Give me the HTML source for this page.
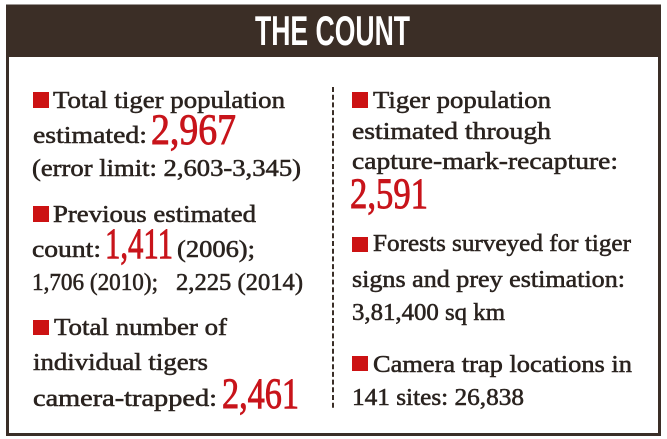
<!DOCTYPE html>
<html>
<head>
<meta charset="utf-8">
<style>
  html, body { margin:0; padding:0; background:#ffffff; }
  body { width:667px; height:439px; overflow:hidden; }
  svg { display:block; }
  .t { font-family:"Liberation Serif", "DejaVu Serif", serif; font-size:24px; fill:#2a231f; stroke:#2a231f; stroke-width:0.55px; }
  .n { font-family:"Liberation Serif", "DejaVu Serif", serif; font-size:43px; fill:#c8141b; stroke:#c8141b; stroke-width:0.9px; }
  .h { font-family:"Liberation Sans Narrow", "Liberation Sans", "DejaVu Sans", sans-serif; font-weight:bold; font-size:42px; fill:#ffffff; }
</style>
</head>
<body>
<svg width="667" height="439" viewBox="0 0 667 439" xmlns="http://www.w3.org/2000/svg">
  <!-- outer box -->
  <rect x="7.5" y="6" width="652" height="428.5" fill="#ffffff" stroke="#3a2e27" stroke-width="3"/>
  <!-- header -->
  <rect x="6" y="5" width="655" height="52" fill="#3b2e26"/>
  <text class="h" x="255" y="45" textLength="155" lengthAdjust="spacingAndGlyphs">THE COUNT</text>

  <!-- dashed divider -->
  <line x1="333" y1="87" x2="333" y2="408" stroke="#3a2e27" stroke-width="2" stroke-dasharray="5 2.7"/>

  <!-- LEFT COLUMN -->
  <rect x="33" y="92" width="16" height="16" fill="#cc1213"/>
  <text class="t" x="53" y="108" textLength="232" lengthAdjust="spacingAndGlyphs">Total tiger population</text>
  <text class="t" x="33" y="143" textLength="114" lengthAdjust="spacingAndGlyphs">estimated:</text>
  <text class="n" x="151" y="144" textLength="85" lengthAdjust="spacingAndGlyphs">2,967</text>
  <text class="t" x="32" y="176" textLength="269" lengthAdjust="spacingAndGlyphs">(error limit: 2,603-3,345)</text>

  <rect x="33" y="206" width="16" height="16" fill="#cc1213"/>
  <text class="t" x="53" y="222" textLength="203" lengthAdjust="spacingAndGlyphs">Previous estimated</text>
  <text class="t" x="32" y="257" textLength="69" lengthAdjust="spacingAndGlyphs">count:</text>
  <text class="n" x="105" y="258" textLength="68" lengthAdjust="spacingAndGlyphs">1,411</text>
  <text class="t" x="177" y="257" textLength="78" lengthAdjust="spacingAndGlyphs">(2006);</text>
  <text class="t" x="32" y="290" textLength="126" lengthAdjust="spacingAndGlyphs">1,706 (2010);</text>
  <text class="t" x="176" y="290" textLength="127" lengthAdjust="spacingAndGlyphs">2,225 (2014)</text>

  <rect x="33" y="320" width="16" height="15" fill="#cc1213"/>
  <text class="t" x="54" y="335" textLength="173" lengthAdjust="spacingAndGlyphs">Total number of</text>
  <text class="t" x="33" y="370" textLength="175" lengthAdjust="spacingAndGlyphs">individual tigers</text>
  <text class="t" x="33" y="406" textLength="184" lengthAdjust="spacingAndGlyphs">camera-trapped:</text>
  <text class="n" x="222" y="408" textLength="77" lengthAdjust="spacingAndGlyphs">2,461</text>

  <!-- RIGHT COLUMN -->
  <rect x="352" y="92" width="16" height="16" fill="#cc1213"/>
  <text class="t" x="373" y="108" textLength="178" lengthAdjust="spacingAndGlyphs">Tiger population</text>
  <text class="t" x="352" y="139" textLength="199" lengthAdjust="spacingAndGlyphs">estimated through</text>
  <text class="t" x="352" y="169" textLength="266" lengthAdjust="spacingAndGlyphs">capture-mark-recapture:</text>
  <text class="n" x="350" y="208" textLength="78" lengthAdjust="spacingAndGlyphs">2,591</text>

  <rect x="352" y="237" width="16" height="15" fill="#cc1213"/>
  <text class="t" x="373" y="251" textLength="258" lengthAdjust="spacingAndGlyphs">Forests surveyed for tiger</text>
  <text class="t" x="352" y="287" textLength="273" lengthAdjust="spacingAndGlyphs">signs and prey estimation:</text>
  <text class="t" x="352" y="320" textLength="153" lengthAdjust="spacingAndGlyphs">3,81,400 sq km</text>

  <rect x="352" y="356" width="16" height="15" fill="#cc1213"/>
  <text class="t" x="373" y="372" textLength="259" lengthAdjust="spacingAndGlyphs">Camera trap locations in</text>
  <text class="t" x="352" y="405" textLength="172" lengthAdjust="spacingAndGlyphs">141 sites: 26,838</text>
</svg>
</body>
</html>
